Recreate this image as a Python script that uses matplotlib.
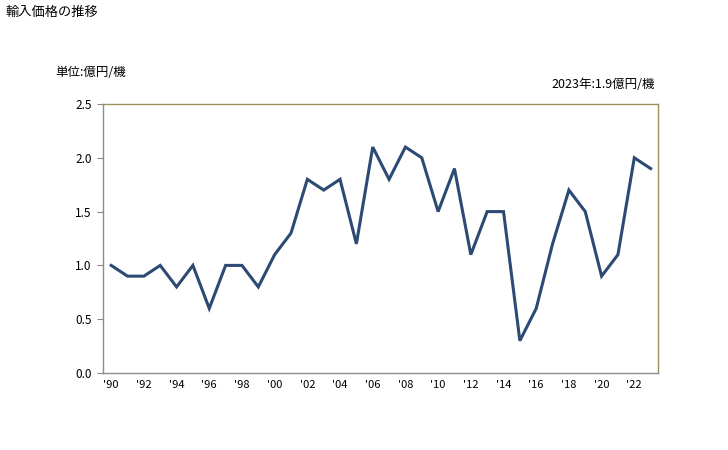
import matplotlib
matplotlib.use("Agg")
import matplotlib.pyplot as plt

plt.rcParams['font.family'] = ['Noto Sans CJK JP', 'DejaVu Sans']

years = list(range(1990, 2024))
values = [1.0, 0.9, 0.9, 1.0, 0.8, 1.0, 0.6, 1.0, 1.0, 0.8,
          1.1, 1.3, 1.8, 1.7, 1.8, 1.2, 2.1, 1.8, 2.1, 2.0,
          1.5, 1.9, 1.1, 1.5, 1.5, 0.3, 0.6, 1.2, 1.7, 1.5,
          0.9, 1.1, 2.0, 1.9]
xtick_years = list(range(1990, 2024, 2))
xtick_labels = ["'" + str(y)[2:] for y in xtick_years]
yticks = [0.0, 0.5, 1.0, 1.5, 2.0, 2.5]

fig = plt.figure(figsize=(7.28, 4.5), dpi=100)
ax = fig.add_axes([103/728, 1 - 373/450, (658 - 103)/728, (373 - 104)/450])

ax.plot(years, values, color='#2c4a74', linewidth=2.2, solid_joinstyle='miter')

ax.set_xlim(1989.5, 2023.45)
ax.set_ylim(0, 2.5)
ax.set_yticks(yticks)
ax.set_yticklabels([f"{v:.1f}" for v in yticks], fontsize=8.5)
ax.set_xticks(xtick_years)
ax.set_xticklabels(xtick_labels, fontsize=8)
ax.tick_params(axis='x', length=0, pad=5)
ax.tick_params(axis='y', length=4, color='#888888', pad=4)

for side in ['left', 'bottom']:
    ax.spines[side].set_color('#8c8c8c')
for side in ['top', 'right']:
    ax.spines[side].set_color('#9c9159')
for s in ax.spines.values():
    s.set_linewidth(1.0)

fig.text(5/728, 1 - 12/450, '輸入価格の推移', fontsize=9.5, va='center', ha='left')
fig.text(55/728, 1 - 73/450, '単位:億円/機', fontsize=9, va='center', ha='left')
fig.text(655/728, 1 - 85/450, '2023年:1.9億円/機', fontsize=9, va='center', ha='right')

fig.savefig('out.png', dpi=100)
